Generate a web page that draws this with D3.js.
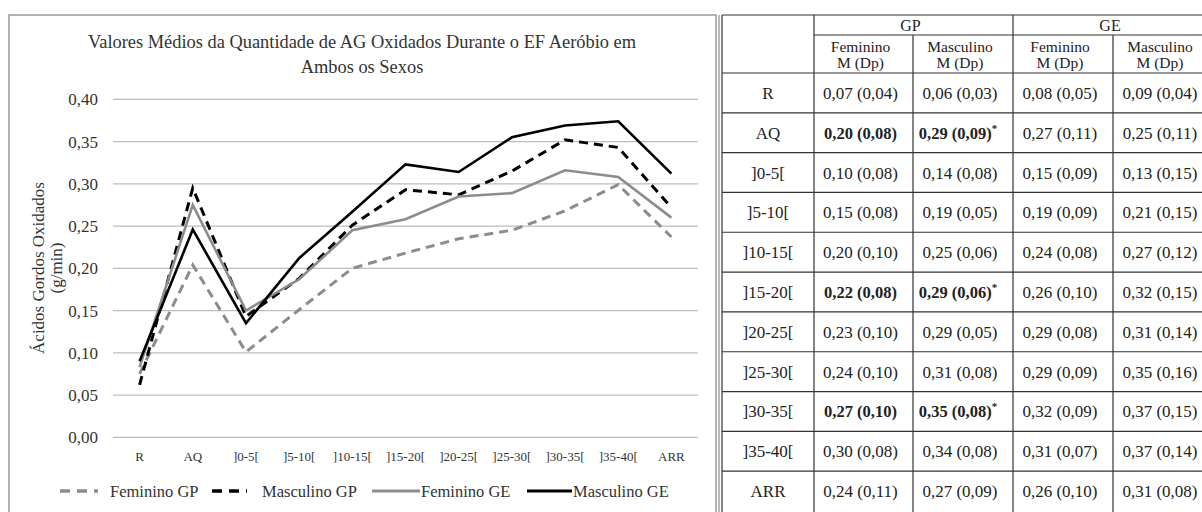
<!DOCTYPE html>
<html><head><meta charset="utf-8">
<script src="https://cdn.jsdelivr.net/npm/d3@7"></script>
<style>body{margin:0;background:#fff}svg{display:block}</style>
</head><body><svg id="c" width="1202" height="512"></svg>
<script>
const categories = ["R","AQ","]0-5[","]5-10[","]10-15[","]15-20[","]20-25[","]25-30[","]30-35[","]35-40[","ARR"];
const femininoGP  = [0.075,0.204,0.101,0.151,0.200,0.218,0.235,0.245,0.268,0.299,0.237];
const masculinoGP = [0.062,0.295,0.143,0.188,0.251,0.293,0.287,0.315,0.352,0.343,0.272];
const femininoGE  = [0.083,0.275,0.150,0.187,0.245,0.258,0.285,0.289,0.316,0.308,0.260];
const masculinoGE = [0.090,0.246,0.135,0.212,0.267,0.323,0.314,0.355,0.369,0.374,0.312];
const yTicks = [0,0.05,0.10,0.15,0.20,0.25,0.30,0.35,0.40];
const seriesNames = ["Feminino GP","Masculino GP","Feminino GE","Masculino GE"];

const tableRows = ["R","AQ","]0-5[","]5-10[","]10-15[","]15-20[","]20-25[","]25-30[","]30-35[","]35-40[","ARR"];
const tabFemGP  = ["0,07 (0,04)","0,20 (0,08)","0,10 (0,08)","0,15 (0,08)","0,20 (0,10)","0,22 (0,08)","0,23 (0,10)","0,24 (0,10)","0,27 (0,10)","0,30 (0,08)","0,24 (0,11)"];
const tabMascGP = ["0,06 (0,03)","0,29 (0,09)","0,14 (0,08)","0,19 (0,05)","0,25 (0,06)","0,29 (0,06)","0,29 (0,05)","0,31 (0,08)","0,35 (0,08)","0,34 (0,08)","0,27 (0,09)"];
const tabFemGE  = ["0,08 (0,05)","0,27 (0,11)","0,15 (0,09)","0,19 (0,09)","0,24 (0,08)","0,26 (0,10)","0,29 (0,08)","0,29 (0,09)","0,32 (0,09)","0,31 (0,07)","0,26 (0,10)"];
const tabMascGE = ["0,09 (0,04)","0,25 (0,11)","0,13 (0,15)","0,21 (0,15)","0,27 (0,12)","0,32 (0,15)","0,31 (0,14)","0,35 (0,16)","0,37 (0,15)","0,37 (0,14)","0,31 (0,08)"];
const boldRows = ["AQ","]15-20[","]30-35["];
const groupHeaders = ["GP","GE"];
const subHeaders = ["Feminino","Masculino","Feminino","Masculino"];

const FONT = "'Liberation Serif', 'DejaVu Serif', serif";
const svg = d3.select("#c").attr("font-family", FONT);
const fmt = v => d3.format(".2f")(v).replace(".", ",");

// Chart frame
svg.append("rect").attr("x",9).attr("y",15).attr("width",707).attr("height",510)
  .attr("fill","none").attr("stroke","#9a9a9a").attr("stroke-width",1.5);

// Title
const title = svg.append("text").attr("text-anchor","middle").attr("fill","#333").attr("font-family",FONT).attr("font-size",18.4);
title.append("tspan").attr("x",362).attr("y",48).text("Valores Médios da Quantidade de AG Oxidados Durante o EF Aeróbio em");
title.append("tspan").attr("x",362).attr("y",73).text("Ambos os Sexos");

const x = d3.scaleBand().domain(categories).range([113,698]);
const y = d3.scaleLinear().domain([0,0.40]).range([437.3,99.3]);

// gridlines
svg.append("g").selectAll("line").data(yTicks).join("line")
  .attr("x1",113).attr("x2",698).attr("y1",d=>y(d)).attr("y2",d=>y(d))
  .attr("stroke","#bdbdbd").attr("stroke-width",1.2);

// y axis labels
const yAxis = svg.append("g").attr("transform","translate(113,0)")
  .call(d3.axisLeft(y).tickValues(yTicks).tickFormat(fmt).tickSize(0).tickPadding(15))
  .attr("font-family",FONT).attr("font-size",17);
yAxis.select(".domain").remove();
yAxis.selectAll("text").attr("fill","#333");

// x axis labels
const xAxis = svg.append("g").attr("transform","translate(0,437.3)")
  .call(d3.axisBottom(x).tickSize(0).tickPadding(14))
  .attr("font-family",FONT).attr("font-size",13);
xAxis.select(".domain").remove();
xAxis.selectAll("text").attr("fill","#333");

// y axis title
const yt = svg.append("text").attr("transform","translate(44,268) rotate(-90)")
  .attr("text-anchor","middle").attr("fill","#333").attr("font-family",FONT).attr("font-size",17);
yt.append("tspan").attr("x",0).attr("y",0).text("Ácidos Gordos Oxidados");
yt.append("tspan").attr("x",0).attr("y",18).text("(g/min)");

const styles = [
  {data: femininoGP,  color:"#8c8c8c", dash:"9,6", w:3},
  {data: masculinoGP, color:"#000",    dash:"9,6", w:3},
  {data: femininoGE,  color:"#8c8c8c", dash:null,  w:2.6},
  {data: masculinoGE, color:"#000",    dash:null,  w:2.6}
];
const line = d3.line().x((d,i)=>x(categories[i])+x.bandwidth()/2).y(d=>y(d));
styles.forEach(s=>{
  svg.append("path").datum(s.data).attr("d",line).attr("fill","none")
    .attr("stroke",s.color).attr("stroke-width",s.w).attr("stroke-dasharray",s.dash)
    .attr("stroke-linejoin","miter");
});

// legend
const legendPos = [{x1:60,x2:98,tx:110},{x1:212,x2:247,tx:262},{x1:372,x2:420,tx:421},{x1:527,x2:572,tx:573}];
seriesNames.forEach((n,i)=>{
  const s = styles[i], p = legendPos[i];
  svg.append("line").attr("x1",p.x1).attr("x2",p.x2).attr("y1",491).attr("y2",491)
    .attr("stroke",s.color).attr("stroke-width",s.w+0.6).attr("stroke-dasharray",s.dash?"10,7":null);
  svg.append("text").attr("x",p.tx).attr("y",497).attr("fill","#333").attr("font-family",FONT).attr("font-size",16.5).text(n);
});

// ---- Table ----
const colEdges = [722,814,913,1013,1113,1213];
const rowsY = d3.scaleBand().domain(tableRows).range([73,511]);
const tg = svg.append("g").attr("font-family",FONT);
const lc = "#333";
tg.append("line").attr("x1",719).attr("x2",719).attr("y1",15).attr("y2",512).attr("stroke","#777").attr("stroke-width",1);
tg.append("line").attr("x1",722).attr("x2",722).attr("y1",15).attr("y2",512).attr("stroke",lc).attr("stroke-width",1.2);
tg.append("line").attr("x1",722).attr("x2",1202).attr("y1",15).attr("y2",15).attr("stroke",lc).attr("stroke-width",1.2);
tg.append("line").attr("x1",colEdges[1]).attr("x2",1202).attr("y1",35).attr("y2",35).attr("stroke",lc).attr("stroke-width",1);
tg.append("line").attr("x1",colEdges[1]).attr("x2",colEdges[1]).attr("y1",15).attr("y2",512).attr("stroke",lc).attr("stroke-width",1.2);
tg.append("line").attr("x1",colEdges[3]).attr("x2",colEdges[3]).attr("y1",15).attr("y2",512).attr("stroke",lc).attr("stroke-width",1.2);
[colEdges[2],colEdges[4]].forEach(xx=>tg.append("line").attr("x1",xx).attr("x2",xx).attr("y1",35).attr("y2",512).attr("stroke",lc).attr("stroke-width",1.2));
tg.selectAll("line.r").data(tableRows).join("line").attr("class","r")
  .attr("x1",722).attr("x2",1202).attr("y1",d=>rowsY(d)).attr("y2",d=>rowsY(d))
  .attr("stroke",lc).attr("stroke-width",1.2);

const shift = -3;
groupHeaders.forEach((g,i)=>{
  tg.append("text").attr("x",(colEdges[1+2*i]+colEdges[3+2*i])/2 + shift).attr("y",31)
    .attr("text-anchor","middle").attr("fill","#222").attr("font-size",16).text(g);
});
subHeaders.forEach((h,i)=>{
  const cx = (colEdges[1+i]+colEdges[2+i])/2 + shift;
  tg.append("text").attr("x",cx).attr("y",52).attr("text-anchor","middle").attr("fill","#222").attr("font-size",15.5).text(h);
  tg.append("text").attr("x",cx).attr("y",68).attr("text-anchor","middle").attr("fill","#222").attr("font-size",15.5).text("M (Dp)");
});

const cols = [tabFemGP, tabMascGP, tabFemGE, tabMascGE];
tableRows.forEach((r,ri)=>{
  const cy = rowsY(r)+rowsY.bandwidth()/2+6;
  tg.append("text").attr("x",(colEdges[0]+colEdges[1])/2).attr("y",cy).attr("text-anchor","middle")
    .attr("fill","#222").attr("font-size",17).text(r);
  cols.forEach((c,ci)=>{
    const bold = boldRows.includes(r) && ci<2;
    const t = tg.append("text").attr("x",(colEdges[1+ci]+colEdges[2+ci])/2 + shift + (bold&&ci===1?-2:0)).attr("y",cy)
      .attr("text-anchor","middle").attr("fill","#222").attr("font-size",bold?16.5:17)
      .attr("font-weight",bold?"bold":"normal");
    t.append("tspan").text(c[ri]);
    if(bold && ci===1){
      t.append("tspan").attr("dy",-7).attr("font-size",11).text("*");
    }
  });
});
</script></body></html>
